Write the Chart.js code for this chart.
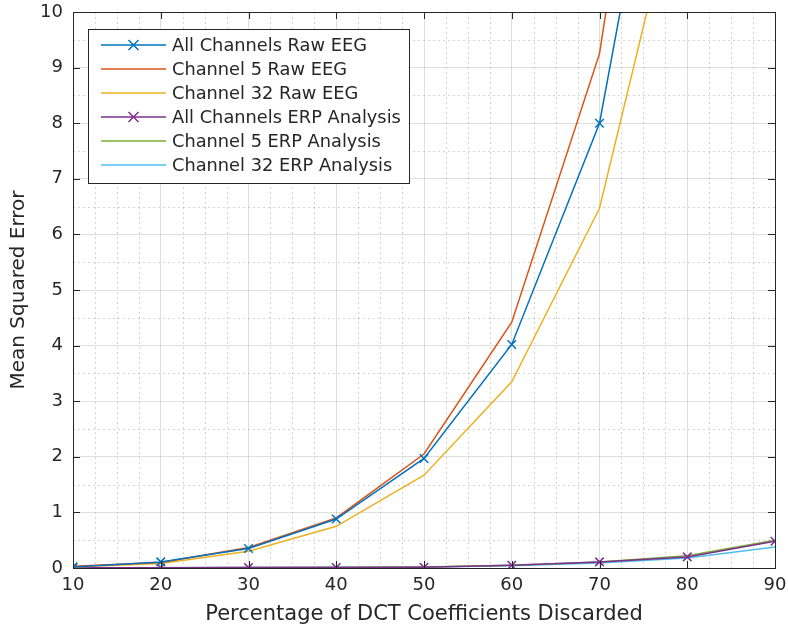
<!DOCTYPE html>
<html>
<head>
<meta charset="utf-8">
<script src="https://cdn.jsdelivr.net/npm/chart.js@4/dist/chart.umd.min.js"></script>
<style>
  html, body { margin: 0; padding: 0; background: #fff; }
  #wrap { width: 788px; height: 627px; }
</style>
</head>
<body>
<div id="wrap"><canvas id="grafico" width="788" height="627"></canvas></div>
<script>
// valores
let percentDescartado = [10, 20, 30, 40, 50, 60, 70, 80, 90];
let todosRaw    = [0.02, 0.11, 0.35, 0.88, 1.97, 4.02, 8.0, 16.5, 30];
let canal5Raw   = [0.03, 0.10, 0.37, 0.90, 2.05, 4.42, 9.25, 19.5, 35];
let canal32Raw  = [0.02, 0.08, 0.30, 0.75, 1.67, 3.35, 6.47, 13.0, 24];
let todosERP    = [0.005, 0.006, 0.008, 0.010, 0.015, 0.05, 0.11, 0.20, 0.48];
let canal5ERP   = [0.005, 0.006, 0.008, 0.012, 0.020, 0.05, 0.11, 0.22, 0.50];
let canal32ERP  = [0.005, 0.006, 0.008, 0.012, 0.020, 0.04, 0.09, 0.18, 0.38];
let nomes = ["All Channels Raw EEG", "Channel 5 Raw EEG", "Channel 32 Raw EEG",
             "All Channels ERP Analysis", "Channel 5 ERP Analysis", "Channel 32 ERP Analysis"];
let cores = ["#0072BD", "#D95319", "#EDB120", "#7E2F8E", "#77AC30", "#4DBEEE"];

const corTexto = "#262626";
const fonte = "'DejaVu Sans', sans-serif";

function pontos(arr){
    let out = [];
    for(let i=0; i<arr.length; i++){
        out.push({x: percentDescartado[i], y: arr[i]});
    }
    return out;
}

function serie(i, arr, marcador){
    return {
        label: nomes[i],
        data: pontos(arr),
        borderColor: cores[i],
        backgroundColor: cores[i],
        borderWidth: 1.5,
        pointStyle: marcador ? 'crossRot' : false,
        pointRadius: marcador ? 6 : 0,
        pointBorderWidth: 1.5,
        tension: 0
    };
}

// grade menor pontilhada + caixa e ticks para dentro
const gradeMenor = {
    id: 'gradeMenor',
    beforeDatasetsDraw(chart){
        const ctx = chart.ctx, a = chart.chartArea;
        const sx = chart.scales.x, sy = chart.scales.y;
        ctx.save();
        ctx.strokeStyle = "rgba(38,38,38,0.2)";
        ctx.lineWidth = 1;
        ctx.setLineDash([2, 3]);
        for(let v = sx.min; v <= sx.max; v += 2.5){
            if(v % 10 === 0) continue;
            const px = Math.round(sx.getPixelForValue(v)) + 0.5;
            ctx.beginPath(); ctx.moveTo(px, a.top); ctx.lineTo(px, a.bottom); ctx.stroke();
        }
        for(let v = sy.min; v <= sy.max; v += 0.5){
            if(v % 1 === 0) continue;
            const py = Math.round(sy.getPixelForValue(v)) + 0.5;
            ctx.beginPath(); ctx.moveTo(a.left, py); ctx.lineTo(a.right, py); ctx.stroke();
        }
        ctx.restore();
    },
    afterDatasetsDraw(chart){
        const ctx = chart.ctx, a = chart.chartArea;
        const sx = chart.scales.x, sy = chart.scales.y;
        ctx.save();
        ctx.strokeStyle = corTexto;
        ctx.lineWidth = 1;
        ctx.strokeRect(Math.round(a.left)+0.5, Math.round(a.top)+0.5,
            Math.round(a.right-a.left), Math.round(a.bottom-a.top));
        const t = 7;
        ctx.beginPath();
        sx.ticks.forEach(tk => {
            const px = Math.round(sx.getPixelForValue(tk.value)) + 0.5;
            ctx.moveTo(px, a.bottom); ctx.lineTo(px, a.bottom - t);
            ctx.moveTo(px, a.top); ctx.lineTo(px, a.top + t);
        });
        sy.ticks.forEach(tk => {
            const py = Math.round(sy.getPixelForValue(tk.value)) + 0.5;
            ctx.moveTo(a.left, py); ctx.lineTo(a.left + t, py);
            ctx.moveTo(a.right, py); ctx.lineTo(a.right - t, py);
        });
        ctx.stroke();
        ctx.restore();
    }
};

// legenda dentro do grafico, com caixa
const legendaCaixa = {
    id: 'legendaCaixa',
    afterDraw(chart){
        const ctx = chart.ctx, a = chart.chartArea;
        const x0 = a.left + 15, y0 = a.top + 17;
        const linha = 24;
        ctx.save();
        ctx.font = "17.8px " + fonte;
        let maxW = 0;
        chart.data.datasets.forEach(ds => { maxW = Math.max(maxW, ctx.measureText(ds.label).width); });
        const w = 84 + maxW + 8;
        const h = linha * chart.data.datasets.length + 10;
        ctx.fillStyle = "#fff";
        ctx.fillRect(x0, y0, w, h);
        ctx.strokeStyle = corTexto;
        ctx.lineWidth = 1;
        ctx.strokeRect(Math.round(x0)+0.5, Math.round(y0)+0.5, Math.round(w), Math.round(h));
        chart.data.datasets.forEach((ds, i) => {
            const cy = y0 + 16 + i * linha;
            ctx.strokeStyle = ds.borderColor;
            ctx.lineWidth = 1.5;
            ctx.beginPath(); ctx.moveTo(x0 + 13, cy); ctx.lineTo(x0 + 78, cy); ctx.stroke();
            if(ds.pointStyle){
                const mx = x0 + 45.5, r = 5;
                ctx.beginPath();
                ctx.moveTo(mx - r, cy - r); ctx.lineTo(mx + r, cy + r);
                ctx.moveTo(mx - r, cy + r); ctx.lineTo(mx + r, cy - r);
                ctx.stroke();
            }
            ctx.fillStyle = corTexto;
            ctx.textBaseline = "middle";
            ctx.fillText(ds.label, x0 + 84, cy + 1);
        });
        ctx.restore();
    }
};

function criaGrafico(){
    const canvas = document.getElementById("grafico");
    const grafico = new Chart(canvas, {
        type: 'line',
        data: {
            datasets: [
                serie(0, todosRaw, true),
                serie(1, canal5Raw, false),
                serie(2, canal32Raw, false),
                serie(3, todosERP, true),
                serie(4, canal5ERP, false),
                serie(5, canal32ERP, false)
            ]
        },
        options: {
            responsive: false,
            animation: false,
            layout: { padding: { left: 0, right: 13, top: 12, bottom: 0 } },
            plugins: { legend: { display: false }, tooltip: { enabled: false } },
            scales: {
                x: {
                    type: 'linear', min: 10, max: 90,
                    ticks: { stepSize: 10, color: corTexto, font: { family: fonte, size: 18 }, padding: 7, maxRotation: 0 },
                    grid: { color: "rgba(38,38,38,0.15)", drawTicks: false },
                    border: { display: false },
                    title: { display: true, text: "Percentage of DCT Coefficients Discarded",
                        color: corTexto, font: { family: fonte, size: 21 }, padding: { top: 2, bottom: 0 } },
                    afterFit(scale){ scale.height = 59; scale.paddingLeft = 0; scale.paddingRight = 0; }
                },
                y: {
                    type: 'linear', min: 0, max: 10,
                    ticks: { stepSize: 1, color: corTexto, font: { family: fonte, size: 18 }, padding: 10 },
                    grid: { color: "rgba(38,38,38,0.15)", drawTicks: false },
                    border: { display: false },
                    title: { display: true, text: "Mean Squared Error",
                        color: corTexto, font: { family: fonte, size: 20 }, padding: { top: 7, bottom: 0 } },
                    afterFit(scale){ scale.width = 73; scale.paddingTop = 0; scale.paddingBottom = 0; }
                }
            }
        },
        plugins: [gradeMenor, legendaCaixa]
    });
}

criaGrafico();
</script>
</body>
</html>
